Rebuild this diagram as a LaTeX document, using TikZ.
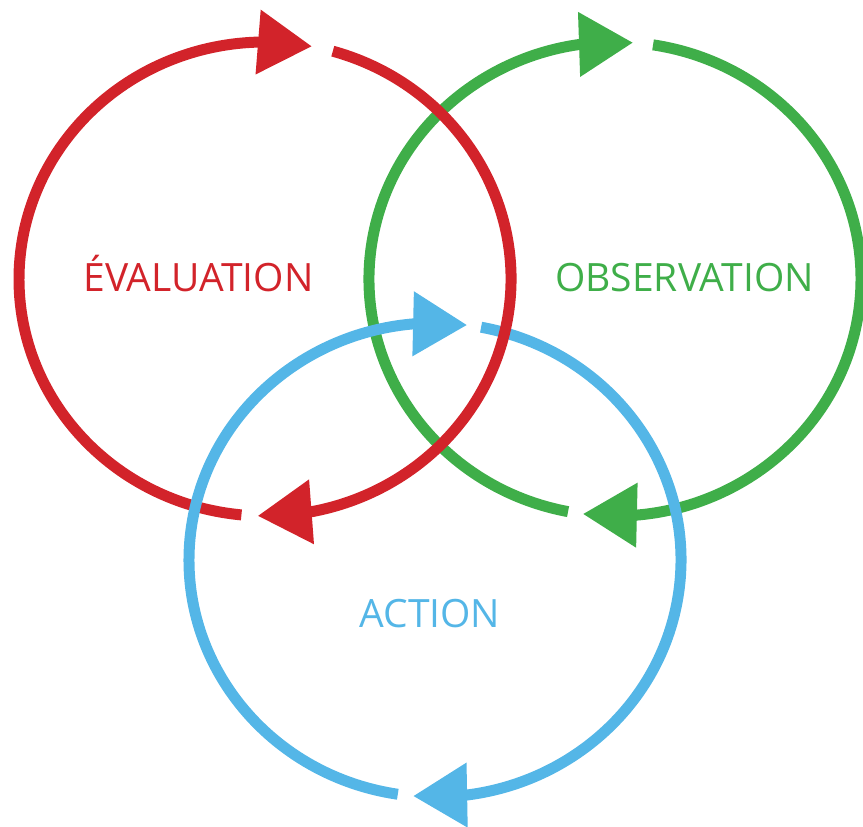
\documentclass[tikz,border=0pt]{standalone}
\usepackage{fontspec}
\setmainfont{Open Sans}
\usetikzlibrary{calc,arrows.meta,bending}
\definecolor{evalred}{HTML}{D2232A}
\definecolor{obsgreen}{HTML}{3FAE49}
\definecolor{actblue}{HTML}{54B6E7}
\tikzset{
  cyclearc/.style={line width=0.22cm, -{Triangle[length=1.08cm, width=1.24cm, flex]}},
  cyclelabel/.style={anchor=base, font=\fontsize{22.2}{26}\selectfont},
}
\def\ringarc[#1](#2)(#3:#4){\draw[cyclearc,#1] ($(#2)+({246*cos(#3)},{237*sin(#3)})$) arc[start angle=#3, end angle=#4, x radius=246, y radius=237];}

\begin{document}
\begin{tikzpicture}[x=0.02cm, y=0.02cm]
			%%%%% frame %%%%%
			\useasboundingbox (0, 0) rectangle (863, 826);
			
			\coordinate (evalc) at (265, 547);
			\coordinate (obsc) at (615, 547);
			\coordinate (actc) at (435, 266);
			
			%%%%% observation %%%%%
			\ringarc[color=obsgreen](obsc)(81.1:-97.5);
			\ringarc[color=obsgreen](obsc)(-101:-274.2);
			
			%%%%% action, right half %%%%%
			\ringarc[color=actblue](actc)(79.2:-95.1);
			
			%%%%% evaluation %%%%%
			\ringarc[color=evalred](evalc)(74:-91.7);
			\ringarc[color=evalred](evalc)(-95.5:-281);
			
			%%%%% action, left half %%%%%
			\ringarc[color=actblue](actc)(-98.7:-277.5);
			
			%%%%% labels %%%%%
			\node[cyclelabel, color=evalred] (evaltext) at (198.5, 534) {ÉVALUATION};
			\node[cyclelabel, color=obsgreen] (obstext) at (684.5, 534) {OBSERVATION};
			\node[cyclelabel, color=actblue] (acttext) at (430, 198) {ACTION};
		\end{tikzpicture}
\end{document}
